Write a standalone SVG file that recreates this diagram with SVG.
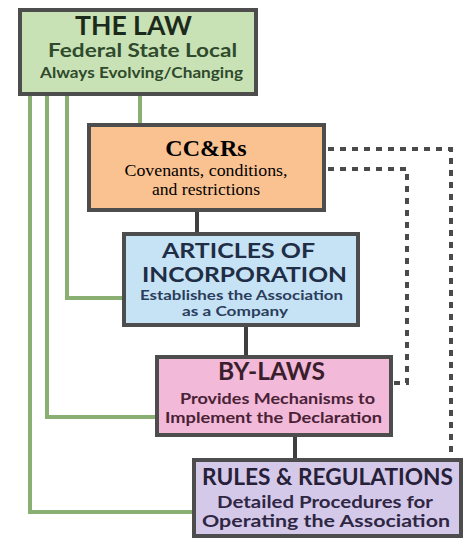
<svg xmlns="http://www.w3.org/2000/svg" width="469" height="540" viewBox="0 0 469 540">
<style>
.box{stroke:#4d4d4d;stroke-width:4}
.g{fill:none;stroke:#8aaf72;stroke-width:4}
.d{fill:none;stroke:#3f3f3f;stroke-width:4}
.dot{fill:none;stroke:#4a4a4a;stroke-width:4;stroke-dasharray:6 6}
.s{font-family:Lato,"Open Sans","DejaVu Sans",sans-serif;font-weight:bold;text-anchor:middle}
.r{font-family:"Liberation Serif","Times New Roman",serif;text-anchor:middle;fill:#000}
</style>
<rect width="469" height="540" fill="#fff"/>
<g id="connectors">
<path class="g" d="M30 95 V512 H192"/>
<path class="g" d="M47 95 V417 H155"/>
<path class="g" d="M67 95 V298 H122"/>
<path class="g" d="M140 95 V123"/>
<path class="d" d="M197 211 V232"/>
<path class="d" d="M246 327 V355"/>
<path class="d" d="M295 437 V458"/>
<path class="dot" d="M328 149 H451 V458"/>
<path class="dot" d="M328 169 H407 V383 H393"/>
</g>
<g id="law">
<rect class="box" x="20" y="10" width="236" height="84" fill="#c9e2b5"/>
<text class="s" x="133.5" y="35" font-size="27" fill="#1c2a1c" textLength="117" lengthAdjust="spacingAndGlyphs">THE LAW</text>
<text class="s" x="142.5" y="57" font-size="18" fill="#2f4a2c" textLength="189" lengthAdjust="spacingAndGlyphs">Federal  State  Local</text>
<text class="s" x="141.5" y="78" font-size="15" fill="#2f4a2c" textLength="203" lengthAdjust="spacingAndGlyphs">Always Evolving/Changing</text>
</g>
<g id="ccrs">
<rect class="box" x="89" y="125" width="235" height="85" fill="#fbc291"/>
<text class="r" x="206" y="156" font-size="24" font-weight="bold">CC&amp;Rs</text>
<text class="r" x="206" y="176" font-size="16" textLength="163" lengthAdjust="spacingAndGlyphs">Covenants, conditions,</text>
<text class="r" x="206" y="195" font-size="16" textLength="108" lengthAdjust="spacingAndGlyphs">and restrictions</text>
</g>
<g id="articles">
<rect class="box" x="124" y="234" width="234" height="91" fill="#c6e2f5"/>
<text class="s" x="238.5" y="258" font-size="21" fill="#1f2d45" textLength="153" lengthAdjust="spacingAndGlyphs">ARTICLES OF</text>
<text class="s" x="244.5" y="282" font-size="21" fill="#1f2d45" textLength="205" lengthAdjust="spacingAndGlyphs">INCORPORATION</text>
<text class="s" x="241.5" y="300" font-size="13.5" fill="#2a3d5c" textLength="203" lengthAdjust="spacingAndGlyphs">Establishes the Association</text>
<text class="s" x="235" y="315.5" font-size="13.5" fill="#2a3d5c" textLength="106" lengthAdjust="spacingAndGlyphs">as a Company</text>
</g>
<g id="bylaws">
<rect class="box" x="157" y="357" width="234" height="78" fill="#f2b9d9"/>
<text class="s" x="271.5" y="380" font-size="24" fill="#3a1e2c" textLength="107" lengthAdjust="spacingAndGlyphs">BY-LAWS</text>
<text class="s" x="277.5" y="404" font-size="16" fill="#4a2236" textLength="195" lengthAdjust="spacingAndGlyphs">Provides Mechanisms to</text>
<text class="s" x="273.5" y="423" font-size="16" fill="#4a2236" textLength="217" lengthAdjust="spacingAndGlyphs">Implement the Declaration</text>
</g>
<g id="rules">
<rect class="box" x="194" y="460" width="267" height="76" fill="#d5c9e9"/>
<text class="s" x="327.5" y="485" font-size="22" fill="#262038" textLength="251" lengthAdjust="spacingAndGlyphs">RULES &amp; REGULATIONS</text>
<text class="s" x="325" y="508" font-size="17.5" fill="#2e2744" textLength="216" lengthAdjust="spacingAndGlyphs">Detailed Procedures for</text>
<text class="s" x="326" y="527" font-size="17.5" fill="#2e2744" textLength="248" lengthAdjust="spacingAndGlyphs">Operating the Association</text>
</g>
</svg>
